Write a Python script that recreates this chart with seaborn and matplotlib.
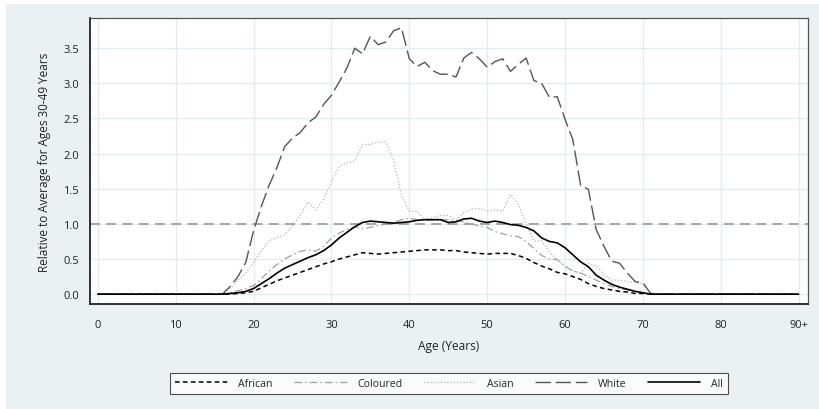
import numpy as np
import pandas as pd
import matplotlib
matplotlib.use("Agg")
import matplotlib.pyplot as plt
from matplotlib.patches import Rectangle
import seaborn as sns

ages = list(range(0, 91))
xtick_vals = [0, 10, 20, 30, 40, 50, 60, 70, 80, 90]
xtick_labels = ["0", "10", "20", "30", "40", "50", "60", "70", "80", "90+"]
ytick_vals = [0.0, 0.5, 1.0, 1.5, 2.0, 2.5, 3.0, 3.5]

african = [0.0, 0.0, 0.0, 0.0, 0.0, 0.0, 0.0, 0.0, 0.0, 0.0,
           0.0, 0.0, 0.0, 0.0, 0.0, 0.0, 0.0, 0.0, 0.01, 0.02,
           0.04, 0.09, 0.14, 0.19, 0.23, 0.27, 0.31, 0.35, 0.39, 0.43,
           0.46, 0.50, 0.53, 0.56, 0.59, 0.58, 0.57, 0.58, 0.59, 0.60,
           0.61, 0.62, 0.63, 0.63, 0.63, 0.62, 0.62, 0.60, 0.59, 0.58,
           0.57, 0.58, 0.58, 0.58, 0.55, 0.51, 0.45, 0.40, 0.36, 0.31,
           0.29, 0.25, 0.21, 0.15, 0.11, 0.08, 0.06, 0.04, 0.03, 0.01,
           0.01, 0.0, 0.0, 0.0, 0.0, 0.0, 0.0, 0.0, 0.0, 0.0,
           0.0, 0.0, 0.0, 0.0, 0.0, 0.0, 0.0, 0.0, 0.0, 0.0, 0.0]

coloured = [0.0, 0.0, 0.0, 0.0, 0.0, 0.0, 0.0, 0.0, 0.0, 0.0,
            0.0, 0.0, 0.0, 0.0, 0.0, 0.0, 0.0, 0.02, 0.05, 0.08,
            0.12, 0.22, 0.33, 0.42, 0.50, 0.56, 0.61, 0.63, 0.61, 0.68,
            0.80, 0.87, 0.92, 0.96, 0.93, 0.95, 0.98, 1.00, 1.02, 1.06,
            1.08, 1.06, 1.06, 1.05, 1.06, 1.06, 1.05, 1.03, 1.00, 0.97,
            0.95, 0.89, 0.86, 0.83, 0.82, 0.75, 0.65, 0.55, 0.50, 0.49,
            0.40, 0.33, 0.30, 0.25, 0.20, 0.15, 0.11, 0.08, 0.06, 0.04,
            0.02, 0.0, 0.0, 0.0, 0.0, 0.0, 0.0, 0.0, 0.0, 0.0,
            0.0, 0.0, 0.0, 0.0, 0.0, 0.0, 0.0, 0.0, 0.0, 0.0, 0.0]

asian = [0.0, 0.0, 0.0, 0.0, 0.0, 0.0, 0.0, 0.0, 0.0, 0.0,
         0.0, 0.0, 0.0, 0.0, 0.0, 0.0, 0.0, 0.08, 0.20, 0.30,
         0.45, 0.62, 0.76, 0.80, 0.85, 0.97, 1.12, 1.31, 1.20, 1.35,
         1.60, 1.82, 1.87, 1.90, 2.13, 2.13, 2.16, 2.17, 1.90, 1.40,
         1.18, 1.18, 1.06, 1.09, 1.12, 1.12, 1.06, 1.16, 1.21, 1.22,
         1.18, 1.20, 1.18, 1.42, 1.28, 1.00, 0.75, 0.76, 0.60, 0.49,
         0.39, 0.33, 0.30, 0.44, 0.40, 0.28, 0.20, 0.20, 0.18, 0.16,
         0.15, 0.02, 0.0, 0.0, 0.0, 0.0, 0.0, 0.0, 0.0, 0.0,
         0.0, 0.0, 0.0, 0.0, 0.0, 0.0, 0.0, 0.0, 0.0, 0.0, 0.0]

white = [0.0, 0.0, 0.0, 0.0, 0.0, 0.0, 0.0, 0.0, 0.0, 0.0,
         0.0, 0.0, 0.0, 0.0, 0.0, 0.0, 0.0, 0.11, 0.25, 0.45,
         0.90, 1.25, 1.55, 1.80, 2.10, 2.22, 2.30, 2.44, 2.52, 2.70,
         2.83, 3.02, 3.22, 3.50, 3.42, 3.67, 3.55, 3.59, 3.75, 3.79,
         3.35, 3.24, 3.30, 3.18, 3.13, 3.13, 3.09, 3.36, 3.44, 3.35,
         3.23, 3.31, 3.35, 3.17, 3.27, 3.36, 3.04, 3.00, 2.80, 2.81,
         2.49, 2.20, 1.55, 1.49, 0.92, 0.68, 0.47, 0.44, 0.30, 0.18,
         0.16, 0.01, 0.0, 0.0, 0.0, 0.0, 0.0, 0.0, 0.0, 0.0,
         0.0, 0.0, 0.0, 0.0, 0.0, 0.0, 0.0, 0.0, 0.0, 0.0, 0.0]

all_groups = [0.0, 0.0, 0.0, 0.0, 0.0, 0.0, 0.0, 0.0, 0.0, 0.0,
              0.0, 0.0, 0.0, 0.0, 0.0, 0.0, 0.0, 0.01, 0.02, 0.04,
              0.08, 0.15, 0.22, 0.30, 0.37, 0.42, 0.47, 0.52, 0.56, 0.62,
              0.70, 0.80, 0.88, 0.96, 1.02, 1.04, 1.03, 1.02, 1.01, 1.02,
              1.03, 1.05, 1.06, 1.06, 1.06, 1.02, 1.03, 1.07, 1.08, 1.04,
              1.02, 1.04, 1.02, 0.99, 0.98, 0.95, 0.90, 0.80, 0.75, 0.73,
              0.66, 0.56, 0.46, 0.39, 0.27, 0.20, 0.14, 0.10, 0.07, 0.04,
              0.02, 0.0, 0.0, 0.0, 0.0, 0.0, 0.0, 0.0, 0.0, 0.0,
              0.0, 0.0, 0.0, 0.0, 0.0, 0.0, 0.0, 0.0, 0.0, 0.0, 0.0]

series_names = ["African", "Coloured", "Asian", "White", "All"]
series_values = [african, coloured, asian, white, all_groups]
reference_level = 1.0

df = pd.DataFrame({
    "age": ages * len(series_names),
    "value": sum(series_values, []),
    "group": sum([[n] * len(ages) for n in series_names], []),
})

sns.set_theme(style="white")
plt.rcParams["font.family"] = ["Open Sans", "DejaVu Sans"]

BG = "#eaf1f3"
GRID = "#e2edf1"

fig = plt.figure(figsize=(8.2, 4.1), dpi=100)
fig.patch.set_facecolor("white")
fig.patches.append(Rectangle((6 / 820, 0), 1, 1 - 5 / 410, transform=fig.transFigure,
                             facecolor=BG, edgecolor="none", zorder=-10))
ax = fig.add_axes([90 / 820, 1 - 305 / 410, 718 / 820, 286 / 410])
ax.set_facecolor("white")

styles = {
    "African": dict(color="black", linestyle=(0, (3.0, 2.2)), linewidth=1.1),
    "Coloured": dict(color="#a0a0a0", linestyle=(0, (6, 2.5, 1.2, 2.5)), linewidth=0.9),
    "Asian": dict(color="#b4b4b4", linestyle=(0, (1.0, 1.6)), linewidth=0.9),
    "White": dict(color="#555555", linestyle=(0, (11, 3.5)), linewidth=1.0),
    "All": dict(color="black", linestyle="-", linewidth=1.2),
}

ax.axhline(reference_level, color="#a0a0a0", linestyle=(0, (5.5, 3.5)), linewidth=1.3, zorder=1)

for name in series_names:
    sub = df[df["group"] == name]
    sns.lineplot(data=sub, x="age", y="value", ax=ax, label=name,
                 errorbar=None, zorder=3, **styles[name])

ax.set_xlim(-1.0, 91.2)
ax.set_ylim(-0.14, 3.93)
ax.set_xticks(xtick_vals)
ax.set_xticklabels(xtick_labels)
ax.set_yticks(ytick_vals)
ax.set_yticklabels([f"{v:.1f}" for v in ytick_vals])
ax.grid(True, color=GRID, linewidth=1.0, zorder=0)
ax.set_axisbelow(True)

for side in ["left", "bottom"]:
    ax.spines[side].set_color("#222222")
    ax.spines[side].set_linewidth(1.3)
for side in ["top", "right"]:
    ax.spines[side].set_color("#555555")
    ax.spines[side].set_linewidth(0.9)

ax.tick_params(axis="both", which="major", direction="out", length=4, width=0.9,
               color="#222222", labelsize=8, labelcolor="#222222", pad=7)
ax.tick_params(axis="y", pad=4)

ax.set_xlabel("Age (Years)", fontsize=8.6, color="#222222", labelpad=6)
ax.set_ylabel("Relative to Average for Ages 30-49 Years", fontsize=8.5, color="#222222", labelpad=9)

leg = ax.legend(loc="center", bbox_to_anchor=(0.5, (1 - 384.5 / 410 - (1 - 305 / 410)) / (286 / 410)),
                ncol=5, frameon=True, fontsize=7.6, handlelength=5.0, handletextpad=1.0,
                columnspacing=2.0, borderpad=0.45, fancybox=False)
leg.get_frame().set_edgecolor("#222222")
leg.get_frame().set_linewidth(0.8)
leg.get_frame().set_facecolor("white")

fig.savefig("out.png", dpi=100, facecolor=fig.get_facecolor())
